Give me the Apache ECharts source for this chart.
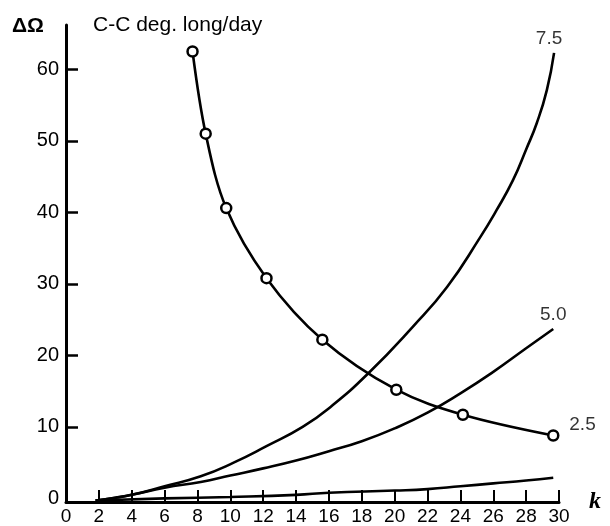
<!DOCTYPE html>
<html>
<head>
<meta charset="utf-8">
<script src="https://cdn.jsdelivr.net/npm/echarts@6/dist/echarts.min.js"></script>
<style>html,body{margin:0;padding:0;background:#fff}#c{width:610px;height:526px}</style>
</head>
<body>
<div id="c"></div>
<script>
// Circle-marked curve
const circK = [7.7, 8.5, 9.75, 12.2, 15.6, 20.1, 24.15, 29.65];
const circV = [62.5, 51.0, 40.6, 30.8, 22.2, 15.2, 11.7, 8.8];
// Curve labelled 7.5
const c75K = [1.8, 3, 4, 6, 8.2, 10.2, 12.2, 14.4, 16.1, 18.4, 21.1, 23.2, 25.2, 26.2, 27.2, 28.0, 28.65, 29.26, 29.7];
const c75V = [-0.3, 0.1, 0.5, 1.7, 3.1, 5.0, 7.3, 10.0, 12.8, 17.5, 24.0, 29.6, 36.5, 40.3, 44.5, 48.8, 52.5, 57.1, 62.3];
// Curve labelled 5.0
const c50K = [1.8, 3, 4, 6, 8.2, 10, 12, 14, 16, 18, 20, 22, 24, 26, 28, 29.65];
const c50V = [-0.3, 0.1, 0.5, 1.5, 2.3, 3.2, 4.2, 5.3, 6.6, 8.0, 9.8, 12.0, 14.7, 17.7, 21.0, 23.7];
// Bottom curve
const c25K = [1.8, 6, 10, 14, 16, 20, 22, 24, 26, 28, 29.65];
const c25V = [-0.3, 0.0, 0.2, 0.5, 0.8, 1.1, 1.3, 1.7, 2.1, 2.5, 2.9];
// Tick labels
const yLabels = [0, 10, 20, 30, 40, 50, 60];
const yTicks = [10, 20, 30, 40, 50, 60];
const curveNames = ['7.5', '5.0', '2.5'];

const pts = (k, v) => k.map((x, i) => [x, v[i]]);
const last = (k, v) => [[k[k.length - 1], v[v.length - 1]]];
const FONT = 'Liberation Sans';
const lineStyle = { color: '#000', width: 2.6 };

function labelSeries(data, text, position, distance, offset) {
  return {
    type: 'scatter', data: data, symbol: 'circle', symbolSize: 0.1,
    itemStyle: { color: 'rgba(0,0,0,0)' }, silent: true, z: 5,
    label: { show: true, formatter: text, position: position, distance: distance, offset: offset,
      color: '#000', fontFamily: FONT, fontSize: 19 }
  };
}

const chart = echarts.init(document.getElementById('c'), null, { renderer: 'canvas' });
chart.setOption({
  animation: false,
  backgroundColor: '#fff',
  title: { text: 'C-C deg. long/day', left: 88, top: 10,
    textStyle: { fontFamily: FONT, fontSize: 21, fontWeight: 'normal', color: '#000' } },
  graphic: [{ type: 'text', left: 12, top: 16,
    style: { text: 'ΔΩ', font: 'bold 21px "Liberation Sans"', fill: '#000' } }],
  grid: { left: 66, right: 51, top: 25, bottom: 24, containLabel: false, outerBoundsMode: 'none' },
  xAxis: {
    type: 'value', min: 0, max: 30, interval: 2,
    name: 'k', nameLocation: 'end', nameGap: 30,
    nameTextStyle: { fontFamily: 'Liberation Serif', fontStyle: 'italic', fontWeight: 'bold', fontSize: 24, color: '#000', verticalAlign: 'middle' },
    axisLine: { onZero: false, lineStyle: { color: '#000', width: 3 } },
    axisTick: { inside: true, length: 12, lineStyle: { color: '#000', width: 2 } },
    axisLabel: { margin: 5, color: '#000', fontFamily: FONT, fontSize: 19, showMinLabel: true, showMaxLabel: true },
    splitLine: { show: false }
  },
  yAxis: {
    type: 'value', min: -0.5, max: 66.2,
    axisLine: { onZero: false, lineStyle: { color: '#000', width: 3 } },
    axisTick: { inside: true, length: 12, customValues: yTicks, lineStyle: { color: '#000', width: 2.5 } },
    axisLabel: { margin: 7, color: '#000', fontFamily: FONT, fontSize: 20, customValues: yLabels },
    splitLine: { show: false }
  },
  series: [
    { type: 'line', data: pts(c75K, c75V), smooth: 0.5, symbol: 'none', lineStyle: lineStyle },
    { type: 'line', data: pts(c50K, c50V), smooth: 0.5, symbol: 'none', lineStyle: lineStyle },
    { type: 'line', data: pts(c25K, c25V), smooth: 0.5, symbol: 'none', lineStyle: lineStyle },
    { type: 'line', data: pts(circK, circV), smooth: 0.35, symbol: 'circle', symbolSize: 10, showAllSymbol: true,
      lineStyle: lineStyle, itemStyle: { color: '#fff', borderColor: '#000', borderWidth: 2.5 }, z: 3 },
    labelSeries(last(c75K, c75V), curveNames[0], 'top', 5, [-5, 0]),
    labelSeries(last(c50K, c50V), curveNames[1], 'top', 5, [0, 0]),
    labelSeries(last(circK, circV), curveNames[2], 'right', 16, [0, -11])
  ]
});
</script>
</body>
</html>
